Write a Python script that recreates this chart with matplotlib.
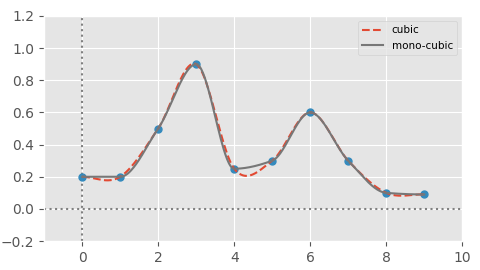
import numpy as np
import matplotlib
matplotlib.use('Agg')
import matplotlib.pyplot as plt

plt.style.use('ggplot')

x = np.array([0, 1, 2, 3, 4, 5, 6, 7, 8, 9], dtype=float)
y = np.array([0.2, 0.2, 0.5, 0.9, 0.25, 0.3, 0.6, 0.3, 0.1, 0.09])


def hermite(x, y, m, xs):
    n = len(x)
    h = np.diff(x)
    idx = np.clip(np.searchsorted(x, xs) - 1, 0, n - 2)
    hi = h[idx]
    t = (xs - x[idx]) / hi
    h00 = 2 * t**3 - 3 * t**2 + 1
    h10 = t**3 - 2 * t**2 + t
    h01 = -2 * t**3 + 3 * t**2
    h11 = t**3 - t**2
    return h00 * y[idx] + h10 * hi * m[idx] + h01 * y[idx + 1] + h11 * hi * m[idx + 1]


def cubic(x, y, xs):
    # cubic hermite with finite-difference slopes
    return hermite(x, y, np.gradient(y, x), xs)


def pchip(x, y, xs):
    n = len(x)
    h = np.diff(x)
    d = np.diff(y) / h
    m = np.zeros(n)
    for k in range(1, n - 1):
        if d[k - 1] * d[k] <= 0:
            m[k] = 0
        else:
            w1 = 2 * h[k] + h[k - 1]
            w2 = h[k] + 2 * h[k - 1]
            m[k] = (w1 + w2) / (w1 / d[k - 1] + w2 / d[k])

    def edge(h0, h1, d0, d1):
        e = ((2 * h0 + h1) * d0 - h0 * d1) / (h0 + h1)
        if np.sign(e) != np.sign(d0):
            e = 0
        elif np.sign(d0) != np.sign(d1) and abs(e) > abs(3 * d0):
            e = 3 * d0
        return e
    m[0] = edge(h[0], h[1], d[0], d[1])
    m[-1] = edge(h[-1], h[-2], d[-1], d[-2])
    return hermite(x, y, m, xs)


xs = np.linspace(x[0], x[-1], 400)

fig = plt.figure(figsize=(4.8, 2.7), dpi=100)
ax = fig.add_axes([0.092, 0.107, 0.871, 0.834])
ax.axvline(0, color='gray', linestyle=':')
ax.axhline(0, color='gray', linestyle=':')
ax.plot(x, y, 'o', color='#348ABD', markersize=5)
ax.plot(xs, cubic(x, y, xs), '--', color='#E24A33', label='cubic')
ax.plot(xs, pchip(x, y, xs), '-', color='#777777', label='mono-cubic')
ax.set_xlim(-1, 10)
ax.set_ylim(-0.2, 1.2)
ax.legend(loc='upper right', fontsize=7.5)
fig.savefig('out.png')
